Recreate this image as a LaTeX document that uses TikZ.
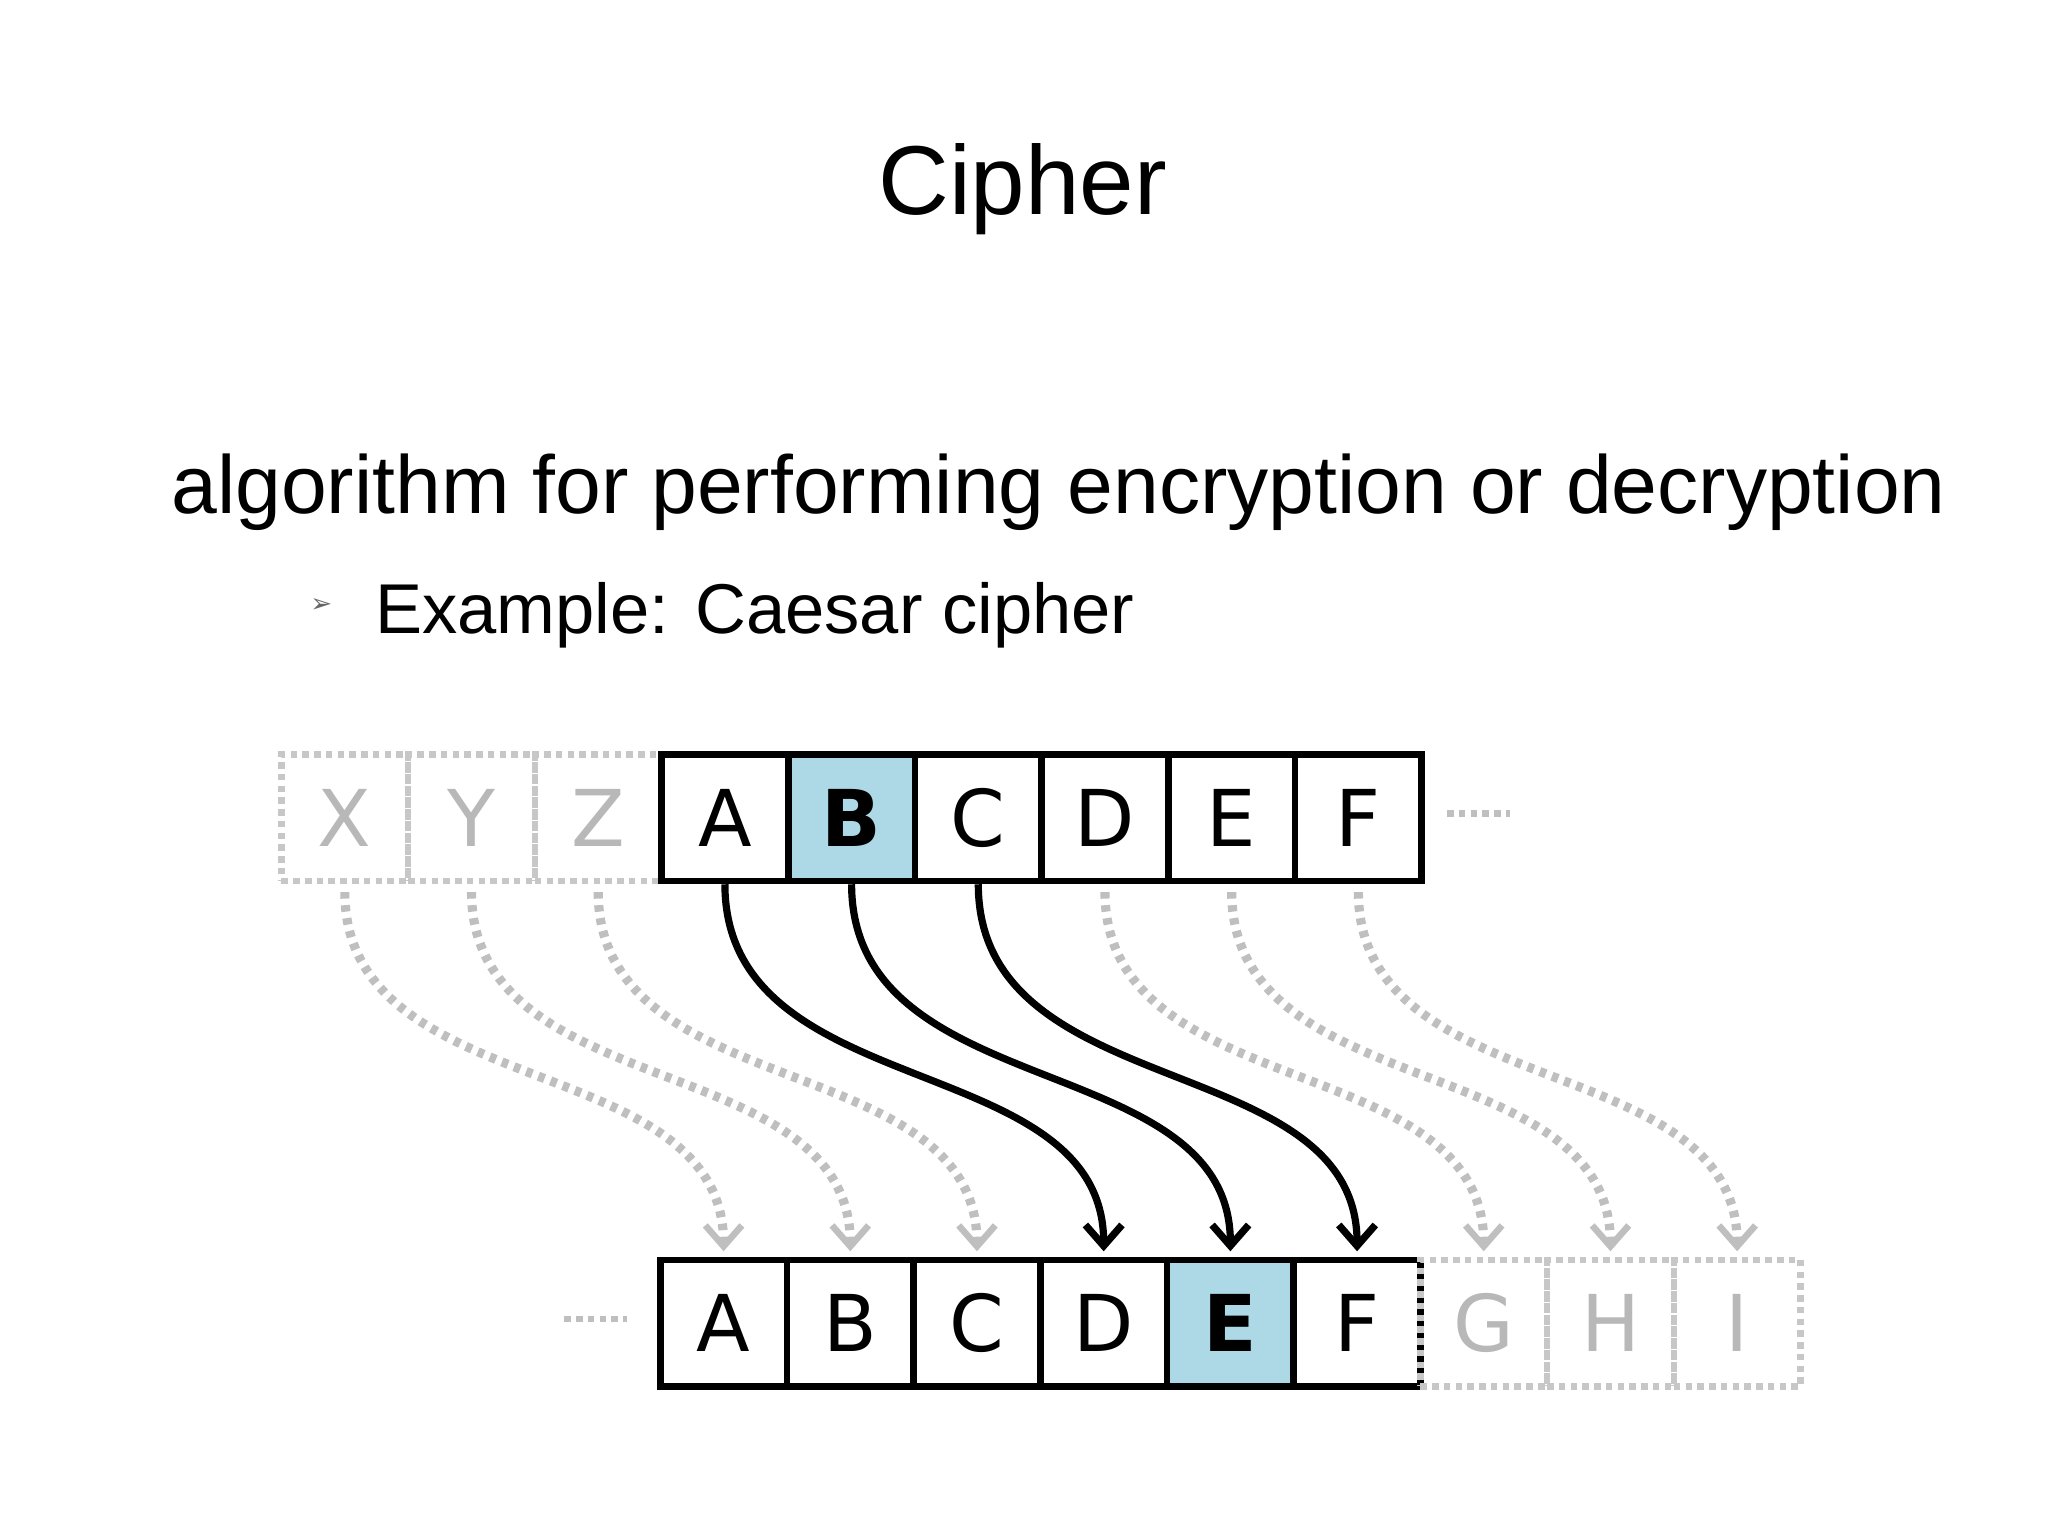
\documentclass[tikz,border=0pt]{standalone}
\usepackage{fontspec}
\setmainfont{Liberation Sans}
\newfontfamily\dvs{DejaVu Sans}
\usetikzlibrary{arrows.meta,calc}
\definecolor{lb}{RGB}{173,216,230}
\begin{document}
\begin{tikzpicture}[x=1pt,y=-1pt,
  cell/.style={draw=black,line width=5pt,minimum width=97pt,minimum height=97pt,inner sep=0pt,anchor=north west,font=\dvs\fontsize{60}{62}\selectfont},
  ghost/.style={draw=black!22,dash pattern=on 5pt off 4pt,line width=5pt,minimum width=97pt,minimum height=97pt,inner sep=0pt,anchor=north west,text=black!28,font=\dvs\fontsize{60}{62}\selectfont},
  hl/.style={fill=lb},
  garr/.style={draw=black!25,line width=7pt,dash pattern=on 5pt off 5pt,-{Straight Barb[length=16pt,width=28pt,line width=5pt,color=black!25]}},
  barr/.style={draw=black,line width=5.5pt,-{Straight Barb[length=16pt,width=28pt,line width=5.5pt]}},
  dots/.style={draw=black!25,line width=5pt,dash pattern=on 5pt off 4pt}]
\useasboundingbox (0,0) rectangle (1568,1176);
\node (title) at (783,145) {\fontsize{75}{78}\selectfont Cipher};
\node[anchor=base west,inner sep=0] (def) at (131,393) {\fontsize{63}{66}\selectfont algorithm for performing encryption or decryption};
\node[anchor=base west,inner sep=0] (ex) at (287,485) {\fontsize{54}{56}\selectfont Example: Caesar cipher};
\node[anchor=base,inner sep=0,text=black!60] (bul) at (246,469) {\dvs\fontsize{20}{20}\selectfont ➢};
% top row
\foreach \l/\i in {X/0,Y/1,Z/2} \node[ghost] (t\i) at (213+97*\i,575) {\l};
\foreach \l/\i in {A/3,C/5,D/6,E/7,F/8} \node[cell] (t\i) at (213+97*\i,575) {\l};
\node[cell,hl] (t4) at (213+97*4,575) {\bfseries B};
% bottom row
\foreach \l/\i in {A/0,B/1,C/2,D/3,F/5} \node[cell] (b\i) at (503+97*\i,962) {\l};
\node[cell,hl] (b4) at (503+97*4,962) {\bfseries E};
\foreach \l/\i in {G/6,H/7,I/8} \node[ghost] (b\i) at (503+97*\i,962) {\l};
\coordinate (d1) at (1108,623); \coordinate (d2) at (1156,623);
\coordinate (d3) at (432,1010); \coordinate (d4) at (480,1010);
\draw[dots] (d1) -- (d2); \draw[dots] (d3) -- (d4);
% arrows
\foreach \i in {0,1,2,6,7,8}
  \draw[garr] ([yshift=-6pt]t\i.south) .. controls ($(t\i.south)+(0,170)$) and ($(b\i.north)+(0,-160)$) .. ([yshift=4pt]b\i.north);
\foreach \i in {3,4,5}
  \draw[barr] (t\i.south) .. controls ($(t\i.south)+(0,170)$) and ($(b\i.north)+(0,-160)$) .. ([yshift=4pt]b\i.north);
\end{tikzpicture}
\end{document}
